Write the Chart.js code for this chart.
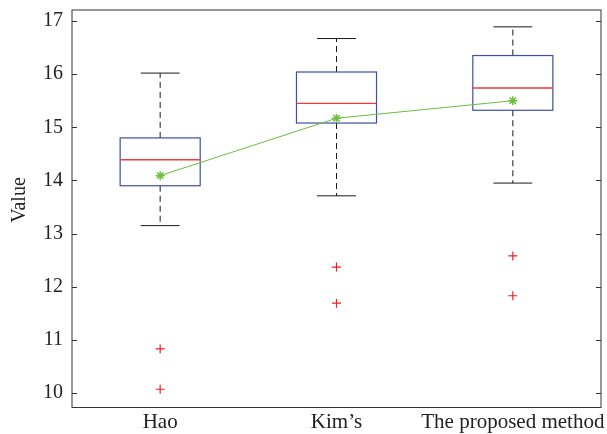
<!DOCTYPE html>
<html><head><meta charset="utf-8">
<script src="https://cdn.jsdelivr.net/npm/chart.js@4"></script>
<style>html,body{margin:0;padding:0;background:#fff}#wrap{width:607px;height:434px}</style>
</head><body><div id="wrap"><canvas id="c" width="607" height="434"></canvas></div>
<script>
// ---- data ----
const categories = ["Hao", "Kim\u2019s", "The proposed method"];
const whiskerLow = [13.15, 13.71, 13.95];
const q1 = [13.90, 15.08, 15.32];
const medians = [14.39, 15.45, 15.74];
const q3 = [14.80, 16.04, 16.35];
const whiskerHigh = [16.02, 16.67, 16.89];
const means = [14.09, 15.17, 15.50];
const outliers = [[10.83, 10.07], [12.37, 11.69], [12.58, 11.83]];
const yTicks = [10, 11, 12, 13, 14, 15, 16, 17];
const yTitle = "Value";

// ---- styles ----
const FONT = "'Liberation Serif', 'DejaVu Serif', serif";
const BOX_HALF = 0.227, CAP_HALF = 0.11;
const BLUE = '#3c4fa8', RED = '#f03c3c', GREEN = '#6cbf3c', BLACK = '#1a1a1a';

const boxPlugin = {
  id: 'boxes',
  beforeDatasetsDraw(chart) {
    const {ctx, scales: {x, y}} = chart;
    ctx.save();
    categories.forEach((c, i) => {
      const cx = x.getPixelForValue(i + 1);
      const bl = x.getPixelForValue(i + 1 - BOX_HALF), br = x.getPixelForValue(i + 1 + BOX_HALF);
      const cl = x.getPixelForValue(i + 1 - CAP_HALF), cr = x.getPixelForValue(i + 1 + CAP_HALF);
      const yq1 = y.getPixelForValue(q1[i]), yq3 = y.getPixelForValue(q3[i]);
      const ylo = y.getPixelForValue(whiskerLow[i]), yhi = y.getPixelForValue(whiskerHigh[i]);
      const ymed = y.getPixelForValue(medians[i]);
      ctx.strokeStyle = BLACK; ctx.lineWidth = 1; ctx.setLineDash([6, 4]);
      ctx.beginPath();
      ctx.moveTo(cx, yq3); ctx.lineTo(cx, yhi);
      ctx.moveTo(cx, yq1); ctx.lineTo(cx, ylo);
      ctx.stroke();
      ctx.setLineDash([]);
      ctx.beginPath();
      ctx.moveTo(cl, yhi); ctx.lineTo(cr, yhi);
      ctx.moveTo(cl, ylo); ctx.lineTo(cr, ylo);
      ctx.stroke();
      ctx.strokeStyle = BLUE; ctx.lineWidth = 1.2;
      ctx.strokeRect(bl, yq3, br - bl, yq1 - yq3);
      ctx.strokeStyle = RED; ctx.lineWidth = 1.4;
      ctx.beginPath(); ctx.moveTo(bl, ymed); ctx.lineTo(br, ymed); ctx.stroke();
    });
    ctx.restore();
  },
  afterDraw(chart) {
    const {ctx, chartArea: a, scales: {y}} = chart;
    ctx.save();
    ctx.strokeStyle = '#333'; ctx.lineWidth = 1;
    ctx.strokeRect(a.left, a.top, a.right - a.left, a.bottom - a.top);
    ctx.beginPath();
    yTicks.forEach(t => {
      const py = Math.round(y.getPixelForValue(t)) + 0.5;
      ctx.moveTo(a.left, py); ctx.lineTo(a.left + 5, py);
      ctx.moveTo(a.right, py); ctx.lineTo(a.right - 5, py);
    });
    ctx.stroke();
    ctx.fillStyle = '#222';
    ctx.font = "20px " + FONT;
    ctx.textAlign = 'center'; ctx.textBaseline = 'middle';
    ctx.translate(20, 200); ctx.rotate(-Math.PI / 2);
    ctx.fillText(yTitle, 0, 0);
    ctx.restore();
  }
};

new Chart(document.getElementById('c'), {
  type: 'line',
  data: {
    datasets: [
      {
        label: 'mean',
        data: means.map((m, i) => ({x: i + 1, y: m})),
        borderColor: GREEN, borderWidth: 1, backgroundColor: GREEN,
        pointStyle: 'star', pointRadius: 4.5, pointBorderWidth: 1.5,
        pointBorderColor: GREEN, fill: false, tension: 0
      },
      {
        label: 'outliers',
        data: outliers.flatMap((arr, i) => arr.map(v => ({x: i + 1, y: v}))),
        showLine: false,
        pointStyle: 'cross', pointRadius: 4.5, pointBorderWidth: 1.2,
        pointBorderColor: '#ee2020', borderColor: '#ee2020'
      }
    ]
  },
  options: {
    responsive: false, animation: false,
    layout: {padding: {top: 10, right: 6, left: 0, bottom: 0}},
    plugins: {legend: {display: false}, tooltip: {enabled: false}},
    scales: {
      x: {
        type: 'linear', min: 0.5, max: 3.5,
        afterBuildTicks: s => { s.ticks = categories.map((c, i) => ({value: i + 1})); },
        afterFit: s => { s.height = 26.5; s.paddingLeft = 0; s.paddingRight = 0; },
        grid: {display: false, drawTicks: false},
        border: {display: false},
        ticks: {
          callback: v => categories[v - 1] || '',
          font: {family: FONT, size: 21}, color: '#222', padding: 2,
          maxRotation: 0, autoSkip: false
        }
      },
      y: {
        min: 9.727, max: 17.207,
        afterBuildTicks: s => { s.ticks = yTicks.map(v => ({value: v})); },
        afterFit: s => { s.width = 72; s.paddingTop = 0; s.paddingBottom = 0; },
        grid: {display: false, drawTicks: false},
        border: {display: false},
        ticks: {font: {family: FONT, size: 20}, color: '#222', padding: 9}
      }
    }
  },
  plugins: [boxPlugin]
});
</script></body></html>
